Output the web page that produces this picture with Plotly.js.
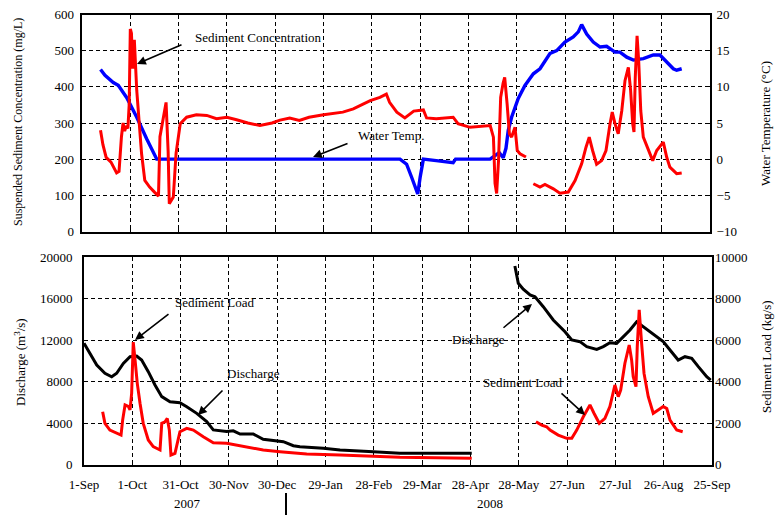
<!DOCTYPE html>
<html>
<head>
<meta charset="utf-8">
<script src="https://cdn.plot.ly/plotly-3.0.1.min.js"></script>
<style>
  html, body { margin: 0; padding: 0; background: #fff; }
  #chart { width: 777px; height: 515px; }
</style>
</head>
<body>
<div id="chart"></div>
<script>
// Date ticks every 30 days, Sep 2007 - Sep 2008
const tickDates = ['2007-09-01','2007-10-01','2007-10-31','2007-11-30','2007-12-30','2008-01-29',
  '2008-02-28','2008-03-29','2008-04-28','2008-05-28','2008-06-27','2008-07-27','2008-08-26','2008-09-25'];
const tickLabels = ['1-Sep','1-Oct','31-Oct','30-Nov','30-Dec','29-Jan','28-Feb','29-Mar','28-Apr',
  '28-May','27-Jun','27-Jul','26-Aug','25-Sep'];

// Suspended sediment concentration (mg/L)
const concDates = ['2007-09-12 12:00','2007-09-14','2007-09-16','2007-09-19','2007-09-22 12:00','2007-09-24',
  '2007-09-25 12:00','2007-09-26 12:00','2007-09-27 12:00','2007-09-28 12:00','2007-09-29 12:00','2007-09-30 07:00',
  '2007-10-01','2007-10-01 17:00','2007-10-02 12:00','2007-10-03 12:00','2007-10-05','2007-10-06 12:00',
  '2007-10-08','2007-10-10','2007-10-13','2007-10-16','2007-10-18 12:00','2007-10-19 10:00','2007-10-21',
  '2007-10-23 05:00','2007-10-24 12:00','2007-10-25 05:00','2007-10-27 17:00','2007-10-29 10:00','2007-11-01',
  '2007-11-05','2007-11-11','2007-11-17 12:00','2007-11-23 12:00','2007-11-30','2007-12-06','2007-12-13',
  '2007-12-20 12:00','2007-12-28','2008-01-02','2008-01-08','2008-01-14','2008-01-20','2008-01-29','2008-02-10',
  '2008-02-16 12:00','2008-02-20 12:00','2008-02-27','2008-03-04','2008-03-08','2008-03-10','2008-03-14 12:00',
  '2008-03-19 12:00','2008-03-25','2008-03-31','2008-04-02','2008-04-08','2008-04-18 12:00','2008-04-21 12:00',
  '2008-04-29','2008-05-11 12:00','2008-05-13 12:00','2008-05-14 12:00','2008-05-15 12:00','2008-05-16 16:00',
  '2008-05-18','2008-05-19 12:00','2008-05-20 12:00','2008-05-22','2008-05-23 10:00','2008-05-24 19:00',
  '2008-05-26 22:00','2008-05-28 07:00','2008-05-30','2008-06-02 17:00','2008-06-05',
  '2008-06-07 07:00','2008-06-11 10:00','2008-06-14 12:00','2008-06-19 17:00','2008-06-23 19:00','2008-06-29',
  '2008-07-03 05:00','2008-07-07 07:00','2008-07-10','2008-07-12','2008-07-14 02:00','2008-07-16 14:00',
  '2008-07-19 17:00','2008-07-22 10:00','2008-07-24 22:00','2008-07-26 07:00','2008-07-28','2008-07-30',
  '2008-08-01 05:00','2008-08-03 05:00','2008-08-05 07:00','2008-08-06 17:00','2008-08-08','2008-08-08 19:00',
  '2008-08-09 14:00','2008-08-10 17:00','2008-08-11 17:00','2008-08-13','2008-08-14 14:00','2008-08-17 17:00',
  '2008-08-20 10:00','2008-08-22 22:00','2008-08-27','2008-08-29 02:00','2008-08-31 02:00','2008-09-04 07:00',
  '2008-09-07 10:00'];
const concValues = [280,240,205,192,162,166,
  262,300,278,292,285,350,
  560,548,450,530,390,290,
  215,141,123,109,98,262,305,
  357,220,77,95,216,298,
  316,323,321,312,316,309,300,
  293,300,308,314,307,316,323,330,
  339,348,362,371,380,357,330,
  314,333,336,314,312,316,298,
  288,293,261,133,105,196,
  371,410,426,353,270,261,
  288,224,215,206,null,
  132,123,130,118,106,109,
  141,187,233,261,224,186,
  196,224,298,330,298,270,
  334,417,454,390,298,275,
  426,541,472,334,261,224,
  196,224,247,206,178,160,
  162];

// Water temperature (°C)
const tempDates = ['2007-09-12 12:00','2007-09-15 07:00','2007-09-20 10:00','2007-09-23 12:00','2007-09-28 19:00',
  '2007-10-05','2007-10-11 05:00','2007-10-17 10:00','2008-03-16 12:00','2008-03-20 14:00','2008-03-23 17:00',
  '2008-03-27 12:00','2008-03-29','2008-03-31','2008-04-08','2008-04-14 12:00','2008-04-18 12:00','2008-04-20',
  '2008-05-11 10:00','2008-05-14 12:00','2008-05-17 02:00','2008-05-19 14:00','2008-05-21 07:00','2008-05-22 17:00',
  '2008-05-24 19:00','2008-05-28 22:00','2008-06-02 02:00','2008-06-07 07:00','2008-06-11 10:00','2008-06-17 14:00',
  '2008-06-21 19:00','2008-06-26 22:00','2008-07-02 02:00','2008-07-05 05:00','2008-07-07 07:00','2008-07-10 10:00',
  '2008-07-14 12:00','2008-07-18 17:00','2008-07-22 19:00','2008-07-28','2008-07-31 02:00','2008-08-04 07:00',
  '2008-08-08 10:00','2008-08-14 14:00','2008-08-20 19:00','2008-08-24 22:00','2008-08-29 02:00','2008-09-02 05:00',
  '2008-09-04 07:00','2008-09-07 10:00'];
const tempValues = [12.4,11.6,10.6,10.2,8.5,
  5.8,2.8,0,0,-0.7,-2.5,
  -4.8,-2.5,0,-0.2,-0.4,-0.5,0,
  0,0.5,0.9,0.2,1.5,4.0,
  5.8,8.4,10.2,11.8,12.5,14.6,
  15.0,16.2,16.9,17.6,18.6,17.3,
  16.2,15.5,15.6,14.8,14.8,14.1,
  13.7,13.9,14.4,14.4,13.4,12.5,
  12.3,12.5];

// Discharge (m3/s)
const dischargeDates = ['2007-09-01','2007-09-04 17:00','2007-09-08 22:00','2007-09-14','2007-09-18 05:00',
  '2007-09-21 07:00','2007-09-25 10:00','2007-09-29 14:00','2007-10-03 17:00','2007-10-06 19:00','2007-10-10 22:00',
  '2007-10-15 02:00','2007-10-19 07:00','2007-10-24 10:00','2007-10-30 14:00','2007-11-03 19:00','2007-11-10',
  '2007-11-16 05:00','2007-11-20 07:00','2007-11-28 14:00','2007-12-02 17:00','2007-12-06 22:00','2007-12-15 02:00',
  '2007-12-21 07:00','2007-12-29 17:00','2008-01-02 19:00','2008-01-09','2008-01-13 02:00','2008-01-27 14:00',
  '2008-02-07','2008-02-27 17:00','2008-03-15 05:00','2008-04-28 19:00','2008-05-10',
  '2008-05-25 14:00','2008-05-27 02:00','2008-05-27 17:00','2008-05-30 19:00','2008-06-04','2008-06-07 02:00',
  '2008-06-12 05:00','2008-06-18 10:00','2008-06-22 14:00','2008-06-25 17:00','2008-06-29 22:00','2008-07-05',
  '2008-07-09 05:00','2008-07-15 10:00','2008-07-19 12:00','2008-07-23 14:00','2008-07-27 19:00','2008-07-31 22:00',
  '2008-08-05 02:00','2008-08-09 05:00','2008-08-13 07:00','2008-08-19 12:00','2008-08-25 17:00','2008-08-29 22:00',
  '2008-09-04','2008-09-08 05:00','2008-09-12 10:00','2008-09-16 12:00','2008-09-21 17:00','2008-09-24 05:00'];
const dischargeValues = [11680,10720,9590,8790,8460,
  8790,9750,10390,10460,10070,8950,
  7660,6540,6050,5960,5570,4930,
  4130,3330,3170,3250,2940,2940,
  2430,2300,2200,1810,1720,1560,
  1400,1240,1080,1080,null,
  19130,18100,17470,16890,16340,16170,
  15210,13930,13280,12800,12000,11840,
  11360,11100,11360,11740,11680,12320,
  12960,13760,13280,12480,11840,11040,
  10070,10390,10240,9430,8460,8140];

// Sediment load (kg/s)
const loadDates = ['2007-09-12 14:00','2007-09-14','2007-09-17 02:00','2007-09-21 07:00','2007-09-24','2007-09-25',
  '2007-09-26 12:00','2007-09-28 12:00','2007-09-29 14:00','2007-09-30 14:00','2007-10-01 14:00','2007-10-02 17:00',
  '2007-10-04 02:00','2007-10-05 19:00','2007-10-07 19:00','2007-10-10 22:00','2007-10-14','2007-10-18 05:00',
  '2007-10-19 07:00','2007-10-21 07:00','2007-10-22 17:00','2007-10-24','2007-10-25','2007-10-27 12:00',
  '2007-10-28 22:00','2007-10-30 14:00','2007-11-03 19:00','2007-11-07 22:00','2007-11-14 02:00','2007-11-20 07:00',
  '2007-11-28 14:00','2007-12-11','2007-12-21 07:00','2007-12-31 17:00','2008-01-13 02:00','2008-01-17 07:00',
  '2008-02-07','2008-02-27 17:00','2008-03-15 05:00','2008-04-28 19:00','2008-05-20',
  '2008-06-07 17:00','2008-06-11 05:00','2008-06-14 07:00','2008-06-16 10:00','2008-06-21 12:00','2008-06-26 19:00',
  '2008-06-29 22:00','2008-07-03','2008-07-07 02:00','2008-07-11 05:00','2008-07-13 17:00','2008-07-17',
  '2008-07-20 12:00','2008-07-23 14:00','2008-07-26 17:00','2008-07-28 19:00','2008-07-30 07:00','2008-08-01 22:00',
  '2008-08-04 14:00','2008-08-06 02:00','2008-08-07 02:00','2008-08-08 19:00','2008-08-09 14:00','2008-08-10 19:00',
  '2008-08-12 07:00','2008-08-13 19:00','2008-08-16 10:00','2008-08-19 12:00','2008-08-22 14:00','2008-08-25 17:00',
  '2008-08-27 22:00','2008-08-29 22:00','2008-09-03 02:00','2008-09-06 19:00'];
const loadValues = [2545,1985,1660,1530,1420,2140,
  2870,2800,2630,3430,5900,5040,
  3910,2950,1985,1180,860,700,
  1985,2060,2220,1660,460,540,
  1100,1580,1745,1660,1340,1050,
  1020,860,700,620,540,505,
  460,410,350,300,null,
  2060,1900,1820,1660,1420,1260,
  1260,1660,2300,2870,2470,1985,
  2220,2790,3830,3270,3590,4880,
  5760,5040,4230,3750,5680,7450,
  5840,4390,3270,2470,2630,2790,
  2700,2140,1660,1580];

const FONT = 'Liberation Serif';
const W = 777, H = 515;
const px = v => v / W;          // pixel -> paper x
const py = v => 1 - v / H;      // pixel -> paper y

const gridStyle = {
  showgrid: true, gridcolor: '#000', gridwidth: 1, griddash: '4px,3px',
  zeroline: false, ticks: 'inside', ticklen: 4, tickcolor: '#000', tickwidth: 1,
  tickfont: { family: FONT, size: 13, color: '#000' }, automargin: false
};

const traces = [
  { x: tempDates, y: tempValues, xaxis: 'x', yaxis: 'y2', type: 'scatter', mode: 'lines',
    line: { color: '#0000ff', width: 3.4 }, connectgaps: false, hoverinfo: 'skip' },
  { x: concDates, y: concValues, xaxis: 'x', yaxis: 'y', type: 'scatter', mode: 'lines',
    line: { color: '#ff0000', width: 3 }, connectgaps: false, hoverinfo: 'skip' },
  { x: dischargeDates, y: dischargeValues, xaxis: 'x2', yaxis: 'y3', type: 'scatter', mode: 'lines',
    line: { color: '#000000', width: 3 }, connectgaps: false, hoverinfo: 'skip' },
  { x: loadDates, y: loadValues, xaxis: 'x2', yaxis: 'y4', type: 'scatter', mode: 'lines',
    line: { color: '#ff0000', width: 3 }, connectgaps: false, hoverinfo: 'skip' }
];

function textNote(text, x, y, extra) {
  return Object.assign({ text: text, xref: 'paper', yref: 'paper', x: px(x), y: py(y),
    xanchor: 'center', yanchor: 'middle', showarrow: false,
    font: { family: FONT, size: 13, color: '#000' } }, extra || {});
}
// pointer arrow from (tailX, tailY) to (headX, headY), in pixels
function arrowNote(tailX, tailY, headX, headY) {
  return { text: '', xref: 'paper', yref: 'paper', x: px(headX), y: py(headY),
    ax: tailX - headX, ay: tailY - headY, showarrow: true, arrowhead: 2, arrowsize: 1.1,
    arrowwidth: 1.6, arrowcolor: '#000', standoff: 0, startstandoff: 0 };
}

const layout = {
  width: W, height: H,
  margin: { l: 0, r: 0, t: 0, b: 0 },
  paper_bgcolor: '#fff', plot_bgcolor: 'rgba(0,0,0,0)',
  showlegend: false,
  font: { family: FONT, size: 13, color: '#000' },
  // upper panel: concentration (left) over temperature (right)
  xaxis: Object.assign({}, gridStyle, {
    domain: [px(82), px(710)], anchor: 'y2', type: 'date',
    range: ['2007-09-01', '2008-09-25'], tickmode: 'array', tickvals: tickDates,
    showticklabels: false, showline: true, mirror: true, linecolor: '#000', linewidth: 2
  }),
  yaxis2: Object.assign({}, gridStyle, {
    domain: [py(231.5), py(14.5)], anchor: 'x', side: 'right',
    range: [-10, 20], tickmode: 'linear', tick0: -10, dtick: 5, showgrid: false, tickformat: 'd',
    showline: true, mirror: true, linecolor: '#000', linewidth: 2, ticklabelstandoff: 2
  }),
  yaxis: Object.assign({}, gridStyle, {
    overlaying: 'y2', anchor: 'x', side: 'left',
    range: [0, 600], tickmode: 'linear', tick0: 0, dtick: 100, showline: false, tickformat: 'd',
    ticklabelstandoff: 7
  }),
  // lower panel: discharge (left) with sediment load (right)
  xaxis2: Object.assign({}, gridStyle, {
    domain: [px(84), px(712)], anchor: 'y3', type: 'date',
    range: ['2007-09-01', '2008-09-25'], tickmode: 'array', tickvals: tickDates, ticktext: tickLabels,
    showline: true, mirror: true, linecolor: '#000', linewidth: 2, ticklabelstandoff: 7
  }),
  yaxis3: Object.assign({}, gridStyle, {
    domain: [py(464.5), py(257)], anchor: 'x2', side: 'left',
    range: [0, 20000], tickmode: 'linear', tick0: 0, dtick: 4000, tickformat: 'd',
    showline: true, mirror: true, linecolor: '#000', linewidth: 2, ticklabelstandoff: 7
  }),
  yaxis4: Object.assign({}, gridStyle, {
    overlaying: 'y3', anchor: 'x2', side: 'right',
    range: [0, 10000], tickmode: 'linear', tick0: 0, dtick: 2000, showgrid: false, tickformat: 'd',
    showline: false, ticklabelstandoff: 2
  }),
  shapes: [
    { type: 'line', xref: 'paper', yref: 'paper', x0: px(286), x1: px(286), y0: py(493), y1: py(515),
      line: { color: '#000', width: 2 } }
  ],
  annotations: [
    textNote('Suspended Sediment Concentration (mg/L)', 18, 122, { textangle: -90, font: { family: FONT, size: 12, color: '#000' } }),
    textNote('Water Temperature (°C)', 765, 124, { textangle: -90 }),
    textNote('Discharge (m<sup>3</sup>/s)', 20, 362, { textangle: -90 }),
    textNote('Sediment Load (kg/s)', 766, 357, { textangle: -90 }),
    textNote('Sediment Concentration', 258, 37),
    textNote('Water Temp.', 391, 135),
    textNote('Sediment Load', 215, 302),
    textNote('Discharge', 254, 373),
    textNote('Discharge', 478, 339),
    textNote('Sediment Load', 523, 382),
    textNote('2007', 187, 503),
    textNote('2008', 490, 503),
    arrowNote(183, 44, 137, 64),
    arrowNote(349, 143, 313, 157),
    arrowNote(170, 313, 135, 340),
    arrowNote(224, 389, 198, 415),
    arrowNote(502, 329, 532, 304),
    arrowNote(560, 392, 585, 415)
  ]
};

Plotly.newPlot('chart', traces, layout, { displayModeBar: false, staticPlot: true });
</script>
</body>
</html>
